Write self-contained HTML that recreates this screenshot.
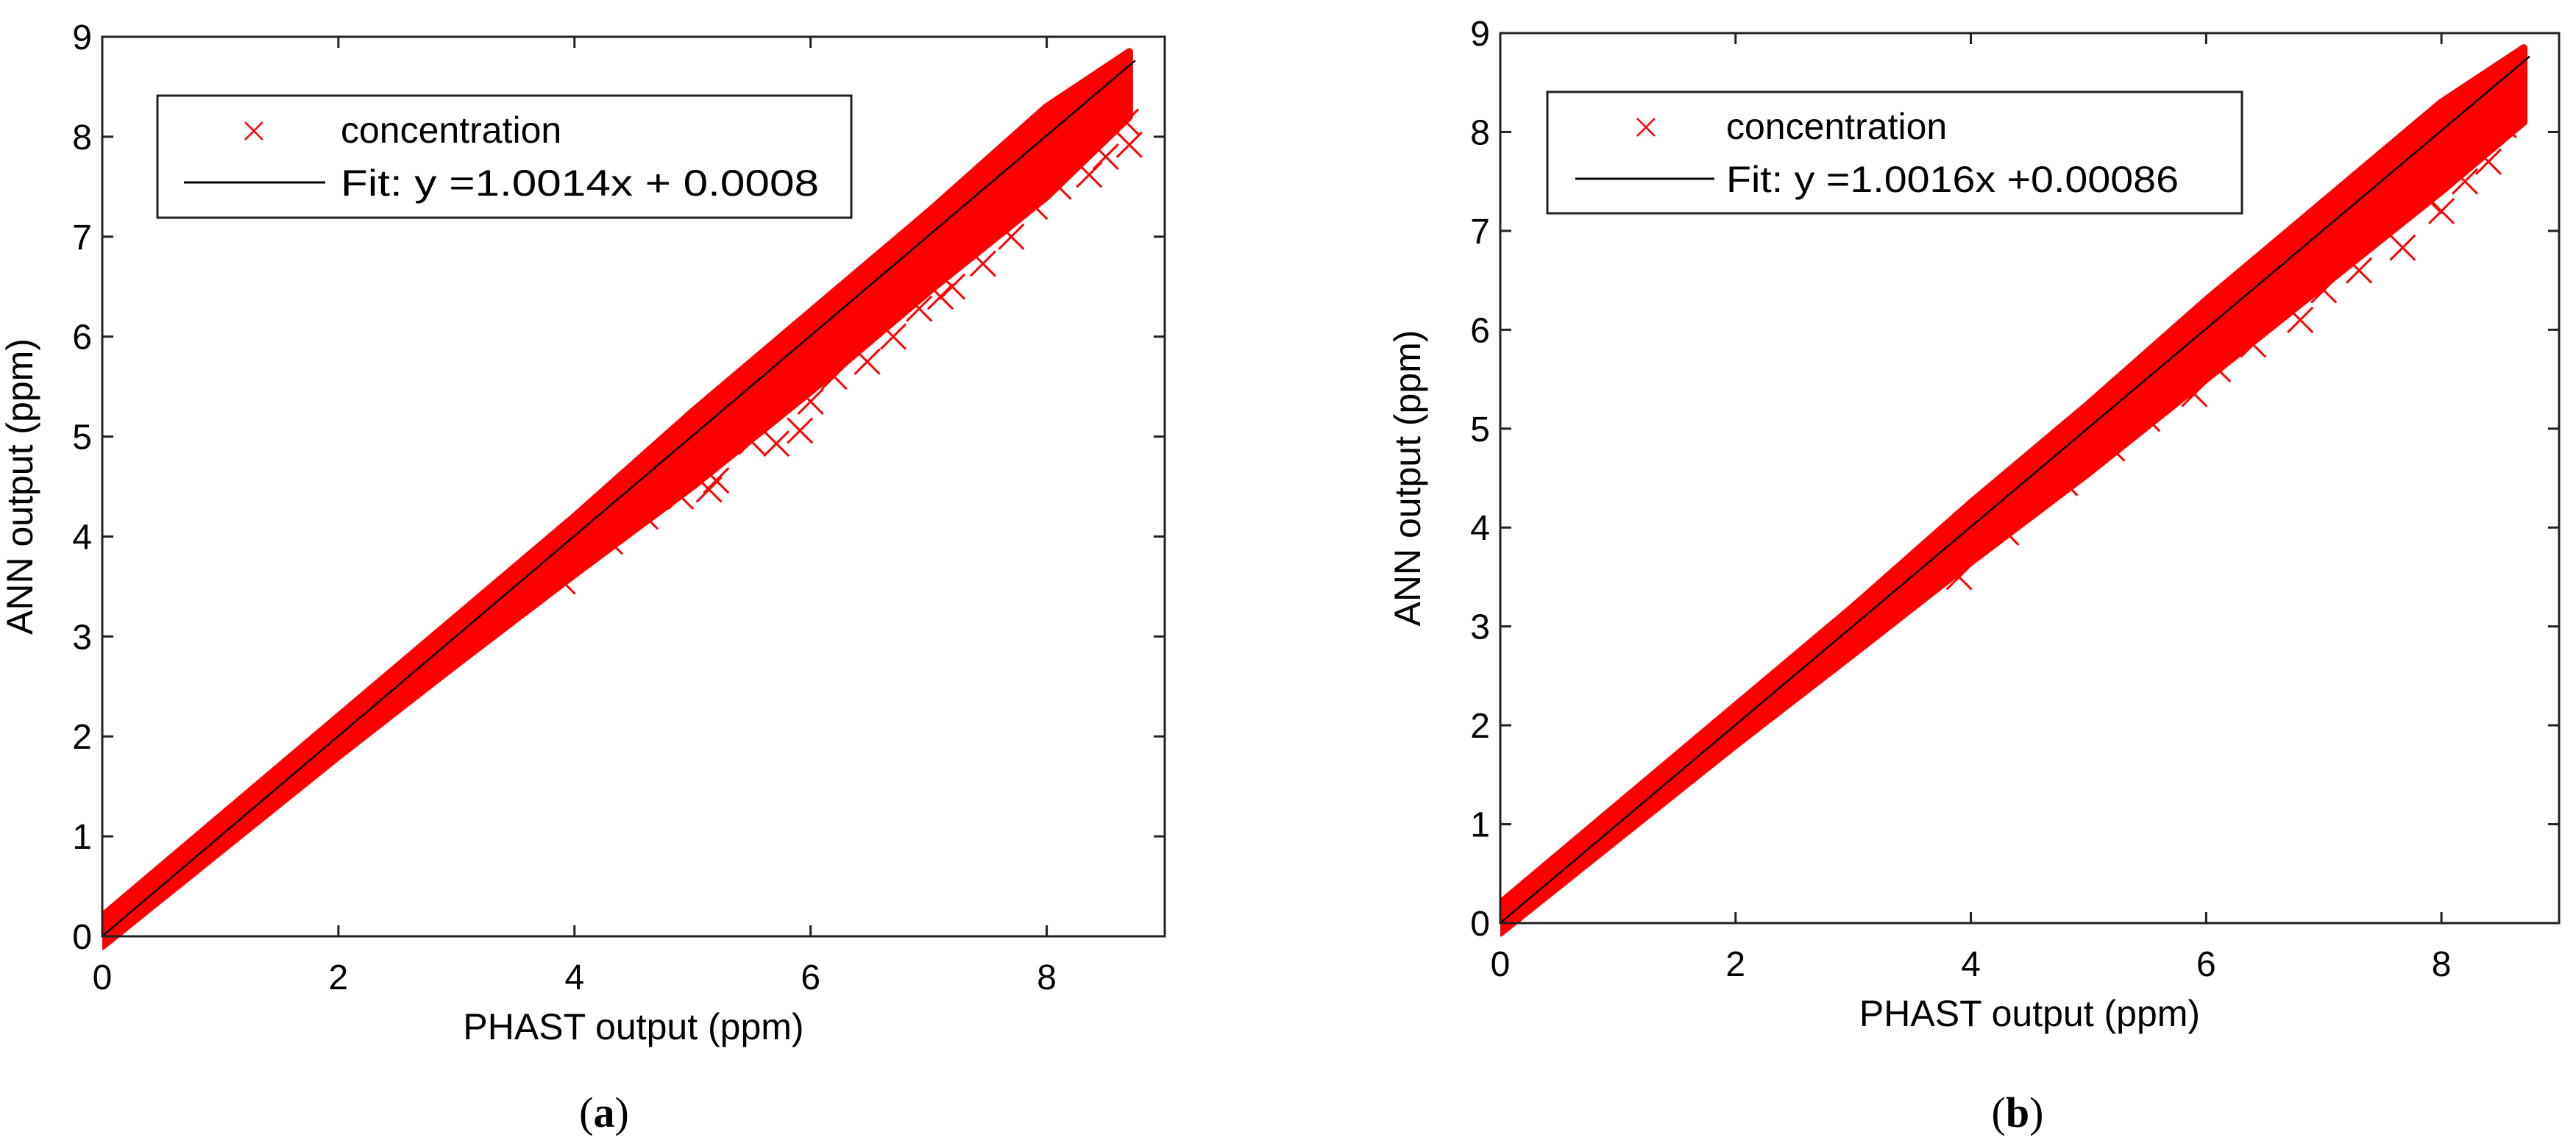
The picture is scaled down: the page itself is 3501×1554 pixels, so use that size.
<!DOCTYPE html>
<html><head><meta charset="utf-8"><style>
body{margin:0;background:#fff}
svg{display:block}
text{font-family:"Liberation Sans",sans-serif;fill:#000}
</style></head><body>
<svg id="fig" width="3501" height="1554" viewBox="0 0 3501 1554" xmlns="http://www.w3.org/2000/svg">
<rect width="3501" height="1554" fill="#fff"/>
</svg>
<script>
// ---- data ----
const envX = [0, 1, 2, 3, 4, 5, 6, 7, 8, 8.7];
const upperA = [0.2, 1.2, 2.2, 3.2, 4.2, 5.25, 6.25, 7.25, 8.3, 8.85];
const lowerA = [-0.1, 0.85, 1.8, 2.72, 3.62, 4.5, 5.45, 6.45, 7.4, 8.2];
const upperB = [0.2, 1.2, 2.2, 3.2, 4.25, 5.25, 6.3, 7.3, 8.3, 8.85];
const lowerB = [-0.1, 0.85, 1.8, 2.72, 3.65, 4.55, 5.5, 6.45, 7.4, 8.1];
const outXA = [5.14, 5.2, 5.71, 5.91, 6.48, 6.92, 7.46, 8.36, 8.7, 8.67, 7.2, 7.9, 6.2, 4.6, 4.3, 5.5, 6.0, 6.7, 7.1, 7.7, 8.1, 8.5, 3.9, 4.9];
const outYA = [4.47, 4.56, 4.93, 5.06, 5.75, 6.28, 6.73, 7.62, 7.92, 8.15, 6.5, 7.3, 5.6, 4.2, 3.95, 4.95, 5.35, 6.0, 6.4, 7.0, 7.5, 7.8, 3.55, 4.4];
const outXB = [7.67, 8.53, 7.9, 8.2, 7.3, 6.8, 6.4, 5.9, 5.5, 4.8, 4.3, 3.9, 8.6, 7.0, 6.1, 5.2, 8.0, 8.4];
const outYB = [6.83, 8.07, 7.3, 7.5, 6.6, 6.1, 5.85, 5.35, 5.1, 4.45, 3.95, 3.5, 8.3, 6.4, 5.6, 4.8, 7.2, 7.7];
const fitA = [1.0014, 0.0008];
const fitB = [1.0016, 0.00086];
const ticksX = [0, 2, 4, 6, 8];
const ticksY = [0, 1, 2, 3, 4, 5, 6, 7, 8, 9];

const NS = "http://www.w3.org/2000/svg";
const svg = document.getElementById('fig');
function mk(tag, attrs, parent) {
  const e = document.createElementNS(NS, tag);
  for (const k in attrs) e.setAttribute(k, attrs[k]);
  (parent || svg).appendChild(e);
  return e;
}

function panel(p) {
  const g = mk('g', {});
  
  
  const sx = v => p.x0 + (v / 9) * (p.x1 - p.x0);
  const sy = v => p.y1 - (v / 9) * (p.y1 - p.y0);
  const cid = 'clip' + p.name;
  const cp = mk('clipPath', {id: cid}, g);
  mk('rect', {x: p.x0, y: p.y0 - 40, width: p.x1 - p.x0 + 20, height: p.y1 - p.y0 + 60}, cp);
  const dg = mk('g', {'clip-path': 'url(#' + cid + ')'}, g);
  let d = '';
  envX.forEach((x, i) => { d += (i ? 'L' : 'M') + sx(x) + ',' + sy(p.up[i]); });
  for (let i = envX.length - 1; i >= 0; i--) d += 'L' + sx(envX[i]) + ',' + sy(p.lo[i]);
  d += 'Z';
  const band = mk('path', {d: d, fill: '#ff0000', stroke: '#ff0000', 'stroke-width': 10, 'stroke-linejoin': 'round'}, dg);
  
  
  p.ox.forEach((x, i) => {
    const cx = sx(x), cy = sy(p.oy[i]), s = 17;
    const m = mk('path', {d: `M${cx-s},${cy-s}L${cx+s},${cy+s}M${cx-s},${cy+s}L${cx+s},${cy-s}`, stroke: '#ff0000', 'stroke-width': 3, fill: 'none'}, dg);
    
    
  });
  const xe = 8.75;
  const fl = mk('line', {x1: sx(0), y1: sy(p.fit[1]), x2: sx(xe), y2: sy(p.fit[0] * xe + p.fit[1]), stroke: '#000', 'stroke-width': 2.5}, dg);
  
  
  const box = mk('rect', {x: p.x0, y: p.y0, width: p.x1 - p.x0, height: p.y1 - p.y0, fill: 'none', stroke: '#222', 'stroke-width': 3}, g);
  
  
  const tl = 15;
  ticksX.forEach(v => {
    const x = sx(v);
    mk('line', {x1: x, y1: p.y1, x2: x, y2: p.y1 - tl, stroke: '#222', 'stroke-width': 3}, g);
    mk('line', {x1: x, y1: p.y0, x2: x, y2: p.y0 + tl, stroke: '#222', 'stroke-width': 3}, g);
    const t = mk('text', {x: x, y: p.y1 + 72, 'font-size': 48, 'text-anchor': 'middle'}, g);
    t.textContent = v;
    
    
  });
  ticksY.forEach(v => {
    const y = sy(v);
    mk('line', {x1: p.x0, y1: y, x2: p.x0 + tl, y2: y, stroke: '#222', 'stroke-width': 3}, g);
    mk('line', {x1: p.x1, y1: y, x2: p.x1 - tl, y2: y, stroke: '#222', 'stroke-width': 3}, g);
    const t = mk('text', {x: p.x0 - 14, y: y + 17, 'font-size': 48, 'text-anchor': 'end'}, g);
    t.textContent = v;
    
    
  });
  const xl = mk('text', {x: (p.x0 + p.x1) / 2, y: p.y1 + 140, 'font-size': 50, 'text-anchor': 'middle'}, g);
  xl.textContent = 'PHAST output (ppm)';
  
  
  const yc = (p.y0 + p.y1) / 2;
  const yl = mk('text', {x: p.ylx, y: yc, 'font-size': 50, 'text-anchor': 'middle', transform: `rotate(-90 ${p.ylx} ${yc})`}, g);
  yl.textContent = 'ANN output (ppm)';
  
  
  const L = p.leg;
  const lg = mk('g', {}, g);
  
  
  mk('rect', {x: L.x, y: L.y, width: L.w, height: L.h, fill: '#fff', stroke: '#222', 'stroke-width': 3}, lg);
  const mx = L.mx, my = L.y + 48, s = 12;
  mk('path', {d: `M${mx-s},${my-s}L${mx+s},${my+s}M${mx-s},${my+s}L${mx+s},${my-s}`, stroke: '#ff0000', 'stroke-width': 2.5}, lg);
  const t1 = mk('text', {x: L.tx, y: my + 16, 'font-size': 50}, lg);
  t1.textContent = 'concentration';
  
  
  const ly = L.y + 118;
  mk('line', {x1: L.l0, y1: ly, x2: L.l1, y2: ly, stroke: '#000', 'stroke-width': 3}, lg);
  const t2 = mk('text', {x: L.tx, y: ly + 18, 'font-size': 50, textLength: L.tw, lengthAdjust: 'spacingAndGlyphs'}, lg);
  t2.textContent = p.fitText;
  
  
  const cap = mk('text', {x: p.capx, y: 1532, 'font-size': 58, 'text-anchor': 'middle', style: 'font-family:"Liberation Serif",serif'}, g);
  cap.innerHTML = '(<tspan font-weight="bold">' + p.cap + '</tspan>)';
  
  
}

panel({name: 'panel-a', x0: 139, x1: 1583, y0: 50, y1: 1273, up: upperA, lo: lowerA, ox: outXA, oy: outYA, fit: fitA,
  fitText: 'Fit: y =1.0014x + 0.0008', ylx: 44, capx: 821, cap: 'a',
  leg: {x: 214, y: 130, w: 943, h: 166, mx: 345, tx: 463, l0: 250, l1: 442, tw: 650}});
panel({name: 'panel-b', x0: 2039, x1: 3478, y0: 45, y1: 1255, up: upperB, lo: lowerB, ox: outXB, oy: outYB, fit: fitB,
  fitText: 'Fit: y =1.0016x +0.00086', ylx: 1930, capx: 2742, cap: 'b',
  leg: {x: 2103, y: 125, w: 944, h: 165, mx: 2237, tx: 2346, l0: 2141, l1: 2330, tw: 615}});
</script>
</body></html>
